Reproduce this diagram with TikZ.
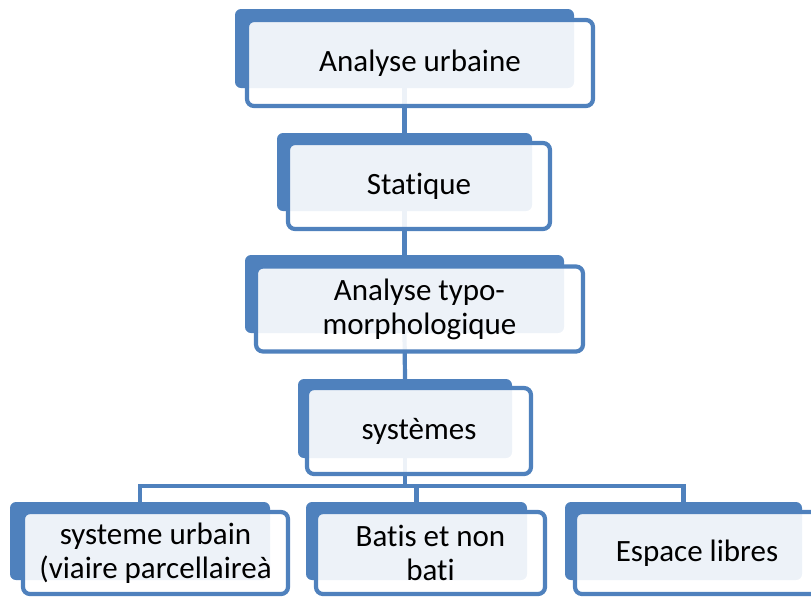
\documentclass[tikz,border=0pt]{standalone}
\usepackage{fontspec}
\setmainfont{Carlito}[Ligatures=NoCommon]
\definecolor{smartblue}{HTML}{4F81BD}
\tikzset{
  backbox/.style={fill=smartblue, rounded corners=6pt, inner sep=0pt},
  frontbox/.style={draw=smartblue, line width=4.2pt, fill=white, fill opacity=0.9,
    text opacity=1, rounded corners=7pt, align=center, inner sep=0pt,
    font=\fontsize{31}{34}\selectfont},
  link/.style={draw=smartblue, line width=4.2pt}
}
\begin{document}
\begin{tikzpicture}[x=1pt,y=-1pt]
\clip (0,0) rectangle (811,598);
% dark boxes behind
\node[backbox, minimum width=339pt, minimum height=79pt] (b1) at (404.5,48.5) {};
\node[backbox, minimum width=255pt, minimum height=78pt] (b2) at (404.5,172) {};
\node[backbox, minimum width=319pt, minimum height=78pt] (b3) at (404.5,294) {};
\node[backbox, minimum width=214pt, minimum height=79pt] (b4) at (405,418.5) {};
\node[backbox, minimum width=260pt, minimum height=78pt] (b5) at (140,541) {};
\node[backbox, minimum width=221pt, minimum height=78pt] (b6) at (416.5,541) {};
\node[backbox, minimum width=237pt, minimum height=78pt] (b7) at (683.5,541) {};
% connectors
\draw[link] (b1.south) -- (b2.north);
\draw[link] (b2.south) -- (b3.north);
\draw[link] (b3.south) -- (b4.north);
\coordinate (bar) at (405,486);
\draw[link] (b4.south) -- (bar);
\draw[link] (b5.north) -- (b5.north |- bar) -- (b7.north |- bar) -- (b7.north);
\draw[link] (b6.north) -- (b6.north |- bar);
% light boxes in front
\node[frontbox, minimum width=346pt, minimum height=86pt] (f1) at (420,63) {Analyse urbaine};
\node[frontbox, minimum width=262pt, minimum height=86pt] (f2) at (419,186) {Statique};
\node[frontbox, minimum width=327pt, minimum height=85pt] (f3) at (419.5,309) {Analyse typo-\\morphologique};
\node[frontbox, minimum width=224pt, minimum height=86pt] (f4) at (419,431) {systèmes};
\node[frontbox, minimum width=265pt, minimum height=82pt] (f5) at (155.5,553) {systeme urbain\\(viaire parcellaireà};
\node[frontbox, minimum width=229pt, minimum height=82pt] (f6) at (430.5,553) {Batis et non\\bati};
\node[frontbox, minimum width=244pt, minimum height=82pt] (f7) at (697,553) {Espace libres};
\end{tikzpicture}
\end{document}
